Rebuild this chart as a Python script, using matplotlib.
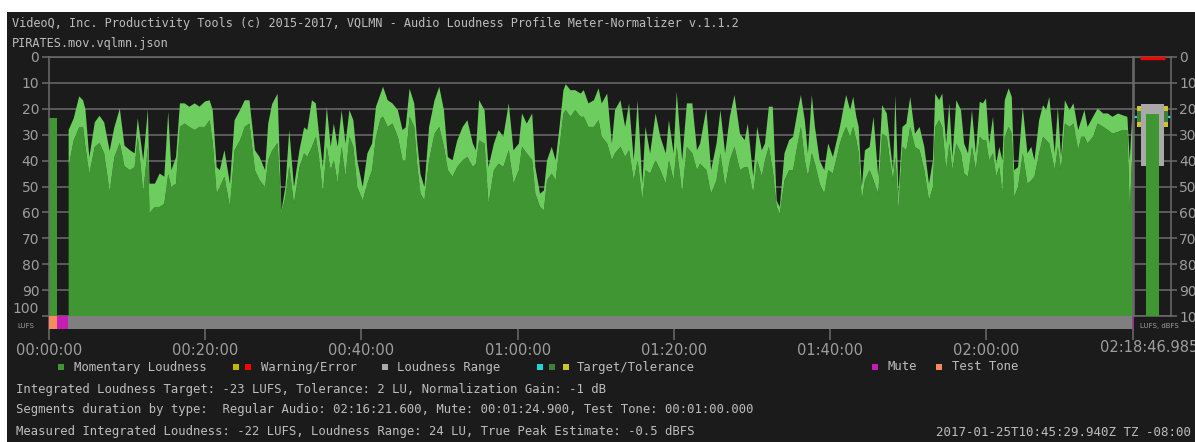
import numpy as np
import matplotlib.pyplot as plt
from matplotlib.patches import Rectangle

# ---- loudness profile (minutes, level below 0 LUFS) ----
t_min = [2.45, 3.1, 3.8, 4.3, 4.6, 5.1, 5.8, 6.4, 7.0, 7.7, 8.3, 9.0, 9.6, 10.3, 10.9, 11.3,
         12.0, 12.6, 12.8, 13.5, 14.1, 14.7, 15.2, 15.6, 16.2, 16.7, 17.3, 17.9, 18.6, 19.2,
         19.9, 20.5, 20.9, 21.4, 21.8, 22.4, 23.1, 23.7, 24.4, 25.0, 25.6, 26.3, 26.9, 27.6,
         28.0, 28.5, 29.2, 29.7, 30.2, 30.7, 31.3, 32.0, 32.6, 33.0, 33.6, 34.1, 34.5, 35.0,
         35.5, 36.0, 36.4, 36.9, 37.4, 37.9, 38.4, 38.9, 39.4, 40.1, 40.7, 41.3, 41.8, 42.4,
         42.7, 43.3, 43.9, 44.6, 45.2, 45.6, 46.1, 46.7, 47.1, 47.5, 48.0, 48.6, 49.3, 49.9,
         50.5, 51.0, 51.6, 52.2, 52.9, 53.5, 54.2, 54.6, 55.0, 55.7, 56.2, 56.9, 57.5, 58.1,
         58.8, 59.4, 60.1, 60.5, 61.1, 61.8, 62.2, 62.8, 63.3, 63.7, 64.3, 64.8, 65.3, 65.8,
         66.1, 66.7, 67.3, 68.0, 68.4, 69.0, 69.7, 70.3, 70.7, 71.4, 72.0, 72.4, 73.1, 73.7,
         74.2, 74.8, 75.3, 75.9, 76.3, 76.9, 77.6, 78.2, 78.9, 79.3, 79.9, 80.3, 81.0, 81.6,
         82.3, 82.9, 83.3, 84.1, 84.7, 85.4, 85.9, 86.5, 87.1, 87.7, 88.4, 89.0, 89.4, 90.1,
         90.6, 91.2, 91.6, 92.1, 92.6, 93.1, 93.5, 94.1, 94.7, 95.2, 95.8, 96.2, 96.7, 97.1,
         97.6, 98.0, 98.6, 99.2, 99.7, 100.3, 100.8, 101.2, 101.6, 102.0, 102.5, 102.9, 103.3,
         103.6, 104.0, 104.4, 105.0, 105.5, 106.1, 106.6, 107.2, 107.6, 108.0, 108.3, 108.7,
         109.2, 109.7, 110.2, 110.8, 111.4, 112.0, 112.6, 113.1, 113.4, 113.9, 114.3, 114.8,
         115.2, 115.6, 116.1, 116.7, 117.1, 117.6, 118.1, 118.6, 119.1, 119.5, 119.9, 120.3,
         120.8, 121.2, 121.6, 122.0, 122.3, 122.8, 123.2, 123.5, 124.0, 124.6, 125.2, 125.7,
         126.1, 126.7, 127.2, 127.6, 128.0, 128.7, 129.1, 129.5, 130.0, 130.6, 131.1, 131.7,
         132.1, 132.5, 132.9, 133.6, 134.2, 134.9, 135.5, 136.1, 136.8, 137.4, 138.0, 138.3,
         138.7]

# momentary peaks (light green)
momentary_top = [28, 23.5, 15, 16.5, 20, 38.5, 25, 22.5, 25, 36, 27, 19.7, 34, 35.8, 37, 23.5,
                 39.7, 20, 48.7, 48.7, 44.8, 46, 21, 43.5, 38.4, 17.7, 17.7, 19, 17.7, 19,
                 17, 16.5, 20.3, 42.3, 43.5, 35.8, 48.7, 24.2, 20.3, 16.5, 16.5, 35.8, 38.4, 43.5,
                 25.5, 18, 14, 59, 50, 28, 50, 35.8, 27, 28, 16.5, 17.7, 29.4, 42.3,
                 19, 34.5, 25.5, 34.5, 20.3, 33.2, 20.3, 24.2, 39.7, 50, 37, 33.2, 19, 13.9,
                 11.3, 16.5, 17.7, 20.3, 28, 27, 12, 17.7, 33.2, 45, 50, 26.8, 16.5, 11.3,
                 20.3, 38.4, 39.7, 32, 26.8, 24.2, 33.2, 35.8, 16.5, 20.3, 42.3, 33.2, 28, 30.6,
                 17.7, 35.8, 33.2, 21.6, 25.5, 21.6, 42.3, 52.6, 51.3, 39.7, 34.5, 39.7, 26.8, 12.6,
                 10.3, 12.6, 12.6, 13.9, 12.6, 17.7, 16.5, 11.9, 17.7, 13.9, 33.2, 20.3, 16.5, 26.8,
                 17.7, 39.7, 16.5, 48.7, 26.8, 37, 21.6, 30.6, 37, 24.2, 37, 13.2, 39.7, 17.7,
                 17.7, 35.8, 33.2, 19.7, 43.5, 33.2, 20.3, 37, 22.9, 14.5, 29.4, 31.9, 25.5, 46,
                 26.8, 35.8, 33.2, 19, 19, 55.2, 57.7, 37, 31.9, 30.6, 20.3, 14.5, 24.2, 37,
                 14.5, 26.8, 39.7, 43.5, 33.2, 38.4, 31.9, 26.8, 20.3, 14.5, 20.3, 15.2, 22.9,
                 26.8, 50, 35.8, 34.5, 22.9, 46, 18.4, 21.6, 33.2, 43.5, 14.5, 52.6,
                 26.8, 25.5, 15.2, 29.4, 26.8, 34.5, 48.7, 39.7, 13.9, 16.5, 13.9, 33.2,
                 17.7, 38.4, 16.5, 20.3, 33.2, 37, 20.3, 37, 17.1, 17.7, 15.8, 33.2,
                 22.9, 41, 34.5, 39.7, 16.5, 11.9, 15.2, 43.5, 42.3, 19, 37, 34.5,
                 39.7, 24.2, 18.4, 20.3, 15.2, 37, 19, 38.4, 16.5, 20.3, 17.7, 28,
                 24.2, 20.3, 26.8, 22.9, 19.7, 21.6, 21.6, 22.9, 21.6, 22.3, 22.9, 39.7,
                 18.4]

# body of the loudness curve (dark green)
momentary_base = [42, 32, 27, 27, 34.5, 45, 34.5, 33, 37, 52, 38.5, 33, 42, 43.5, 42.3, 30.6,
                  52, 34.5, 60, 57.7, 57.7, 56.5, 45, 50, 48.7, 26.8, 25.5, 26.8, 28, 26.8,
                  26.8, 24.2, 33, 52.6, 50, 46, 57.7, 35.8, 32, 26.8, 25.5, 43.5, 47.4, 50,
                  39.7, 36, 33, 60, 54, 42, 56.5, 42.3, 37, 38.4, 34.5, 30.6, 38.4, 52.6,
                  34.5, 43.5, 39.7, 48.7, 34.5, 46, 30.6, 34.5, 50, 55.2, 48.7, 43.5, 30.6, 23.5,
                  22.9, 26.8, 25.5, 30.6, 39.7, 39.7, 22.9, 26.8, 42.3, 52.6, 55.2, 39.7, 29.4, 26.8,
                  34.5, 43.5, 46, 42.3, 39.7, 38.4, 42.3, 41, 32, 33.2, 56.5, 43.5, 41, 42.3,
                  35.8, 48.7, 43.5, 34.5, 37, 39.7, 52.6, 57.7, 59, 47.4, 44.8, 47.4, 34.5, 21.6,
                  20.3, 22.9, 20.3, 22.9, 22.9, 26.8, 26.8, 24.2, 30.6, 33.2, 39.7, 37, 34.5, 38.4,
                  35.8, 47.4, 39.7, 55.2, 43.5, 44.8, 39.7, 43.5, 48.7, 39.7, 47.4, 34.5, 52.6, 34.5,
                  37, 43.5, 41, 43.5, 52.6, 47.4, 37, 50, 39.7, 34.5, 43.5, 42.3, 42.3, 52.6,
                  39.7, 46, 39.7, 34.5, 43.5, 57.7, 60.3, 47.4, 43.5, 43.5, 33.2, 26.8, 39.7, 46,
                  37, 41, 48.7, 52.6, 43.5, 44.8, 38.4, 33.2, 29.4, 26.8, 30.6, 26.8, 31.9,
                  37, 55.2, 47.4, 43.5, 47.4, 52.6, 29.4, 30.6, 39.7, 47.4, 38.4, 59,
                  34.5, 35.8, 26.8, 34.5, 35.8, 43.5, 55.2, 50, 26.8, 24.2, 26.8, 43.5,
                  33.2, 43.5, 33.2, 37, 44.8, 46, 34.5, 43.5, 30.6, 31.9, 31.9, 39.7,
                  37, 46, 42.3, 52.6, 30.6, 26.8, 29.4, 53.9, 50, 37, 48.7, 47.4,
                  46, 37, 30.6, 31.9, 33.2, 43.5, 34.5, 43.5, 25.5, 26.8, 25.5, 35.8,
                  30.6, 30.6, 33.2, 30.6, 25.5, 26.8, 28, 29.4, 28.7, 28, 28, 59,
                  31.9]

# test tone block at the start
tone_start, tone_end, tone_level = 0.0, 1.0, 23.5

# segment strip: start, end (minutes), kind
seg_start = [0.0, 1.0, 2.415, 138.62]
seg_end = [1.0, 2.415, 138.62, 138.783]
seg_kind = ['tone', 'mute', 'audio', 'mute']

total_min = 138.783
xtick_min = [0, 20, 40, 60, 80, 100, 120]
xtick_labels = ['00:00:00', '00:20:00', '00:40:00', '01:00:00', '01:20:00', '01:40:00', '02:00:00']
end_label = '02:18:46.985'

# summary meter values
integrated = 22        # -22 LUFS
lra_low, lra_high = 42, 18   # loudness range 24 LU
target, tolerance = 23, 2
true_peak = 0.5        # -0.5 dBFS

BG = '#1b1b1b'
DARK = '#3f9632'
LIGHT = '#6dcd5e'
GRID = '#6c6c6c'
TXT = '#bdbdbd'
TICK = '#9e9e9e'
seg_colors = {'tone': '#f7895a', 'mute': '#c41fb2', 'audio': '#7f7f7f'}

W, H = 1195, 442
fx = lambda px: px / W
fy = lambda py: 1 - py / H

fig = plt.figure(figsize=(W / 100, H / 100), dpi=100, facecolor='white')
fig.patches.append(Rectangle((fx(7), 0), 1, fy(12), transform=fig.transFigure,
                             facecolor=BG, edgecolor='none', zorder=-1))

# ---- main profile ----
ax = fig.add_axes([fx(49), fy(329), (1133 - 49) / W, (329 - 57) / H])
ax.set_facecolor(BG)
ax.set_xlim(0, total_min)
ax.set_ylim(105, 0)

t = np.array(t_min)
top = np.array(momentary_top)
base = np.array(momentary_base)
ax.fill_between(t, 100, base, color=DARK, lw=0, zorder=2)
ax.fill_between(t, base, top, color=LIGHT, lw=0, zorder=2)
ax.fill_between([tone_start, tone_end], 100, tone_level, color=DARK, lw=0, zorder=2)

for s, e, k in zip(seg_start, seg_end, seg_kind):
    ax.bar(s, 5, bottom=100, width=e - s, align='edge', color=seg_colors[k], lw=0, zorder=3)

ax.set_yticks(range(0, 101, 10))
ax.set_yticklabels([str(v) for v in range(0, 101, 10)])
ax.grid(axis='y', color=GRID, lw=1.1, zorder=1)
ax.set_axisbelow(True)
ax.set_xticks(xtick_min + [total_min])
ax.set_xticklabels(xtick_labels + [''])
ax.tick_params(axis='y', colors=GRID, labelcolor=TICK, labelsize=10, length=5, width=1.1, pad=2)
ax.tick_params(axis='x', colors=GRID, labelcolor=TICK, labelsize=10.5, length=8, width=1.1, pad=2)
for lab in ax.get_yticklabels() + ax.get_xticklabels():
    lab.set_family('DejaVu Sans')
# lift the bottom label a little so the unit tag fits under it
ax.get_yticklabels()[-1].set_va('bottom')
for side in ['left', 'top', 'right']:
    ax.spines[side].set_color(GRID)
    ax.spines[side].set_linewidth(1.1)
ax.spines['bottom'].set_visible(False)

# ---- summary meter ----
ax2 = fig.add_axes([fx(1134), fy(316), (1171 - 1134) / W, (316 - 57) / H])
ax2.set_facecolor(BG)
ax2.set_xlim(0, 37)
ax2.set_ylim(100, 0)
ax2.set_yticks(range(0, 101, 10))
ax2.grid(axis='y', color=GRID, lw=1.1, zorder=1)
ax2.set_axisbelow(True)
ax2.set_xticks([])
ax2.yaxis.tick_right()
ax2.tick_params(axis='y', colors=GRID, labelcolor=TICK, labelsize=10, length=4, width=1.1, pad=2)
for s in ax2.spines.values():
    s.set_color(GRID)
    s.set_linewidth(1.1)

ax2.axhline(target, color='#1fd6d6', lw=1.6, zorder=2)
for x0 in (2.7, 30):
    ax2.add_patch(Rectangle((x0, target - 2 * tolerance), 4, tolerance, color='#cfc22a', lw=0, zorder=3))
    ax2.add_patch(Rectangle((x0, target - tolerance), 4, 2 * tolerance, color='#3e7f3a', lw=0, zorder=3))
    ax2.add_patch(Rectangle((x0, target + tolerance), 4, tolerance, color='#cfc22a', lw=0, zorder=3))
ax2.add_patch(Rectangle((7, lra_high), 23, lra_low - lra_high, color='#a9a9a9', lw=0, zorder=4))
ax2.add_patch(Rectangle((11.7, integrated), 13.6, 100 - integrated, color=DARK, lw=0, zorder=5))
ax2.plot([6, 31], [true_peak, true_peak], color='#ff0000', lw=2.4, solid_capstyle='butt', zorder=6)

# ---- labels and text ----
mono = 'DejaVu Sans Mono'
fig.text(fx(12), fy(23), 'VideoQ, Inc. Productivity Tools (c) 2015-2017, VQLMN - Audio Loudness '
         'Profile Meter-Normalizer v.1.1.2', family=mono, size=8.6, color=TXT, va='center')
fig.text(fx(12), fy(43), 'PIRATES.mov.vqlmn.json', family=mono, size=8.6, color=TXT, va='center')
fig.text(fx(17), fy(326), 'LUFS', family='DejaVu Sans', size=5, color=TICK, va='center')
fig.text(fx(1140), fy(326), 'LUFS, dBFS', family='DejaVu Sans', size=5, color=TICK, va='center')
fig.text(fx(1100), fy(347), end_label, family='DejaVu Sans', size=10.5, color=TICK, va='center')

legend = [([(61, DARK)], 74, 'Momentary Loudness'),
          ([(236, '#c8b400'), (248.5, '#ff0000')], 261, 'Warning/Error'),
          ([(384.5, '#a9a9a9')], 397, 'Loudness Range'),
          ([(539.5, '#1fd6d6'), (551.5, '#3e7f3a'), (565.5, '#cfc22a')], 577, 'Target/Tolerance'),
          ([(875, '#c41fb2')], 887, 'Mute'),
          ([(939.5, '#f7895a')], 952, 'Test Tone')]
for squares, tx, label in legend:
    for cx, c in squares:
        fig.patches.append(Rectangle((fx(cx - 3), fy(370)), 6 / W, 6 / H,
                                     transform=fig.transFigure, color=c, lw=0))
    fig.text(fx(tx), fy(367), label, family=mono, size=8.8, color=TXT, va='center')

info = ['Integrated Loudness Target: -23 LUFS, Tolerance: 2 LU, Normalization Gain: -1 dB',
        'Segments duration by type:  Regular Audio: 02:16:21.600, Mute: 00:01:24.900, '
        'Test Tone: 00:01:00.000',
        'Measured Integrated Loudness: -22 LUFS, Loudness Range: 24 LU, True Peak Estimate: -0.5 dBFS']
for y, line in zip([389, 410, 432], info):
    fig.text(fx(16), fy(y), line, family=mono, size=8.8, color=TXT, va='center')
fig.text(fx(1191), fy(432), '2017-01-25T10:45:29.940Z TZ -08:00', family=mono, size=9.0,
         color=TXT, va='center', ha='right')

fig.savefig('out.png', dpi=100, facecolor=fig.get_facecolor())
